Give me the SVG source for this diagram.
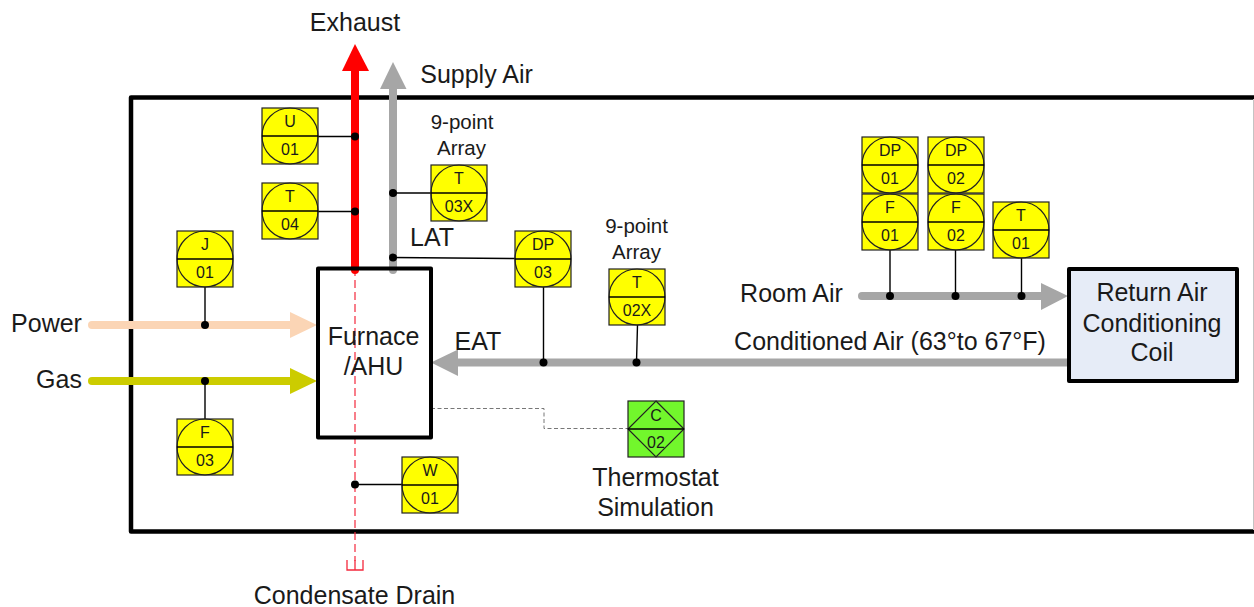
<svg xmlns="http://www.w3.org/2000/svg" width="1254" height="607" viewBox="0 0 1254 607">
<style>
text{font-family:"Liberation Sans",Arial,sans-serif;fill:#1a1a1a;text-anchor:middle}
.l{font-size:25px}
.m{font-size:20.500px}
.s{font-size:16px}
.b{fill:#ff0;stroke:#222;stroke-width:1.2}
.g{fill:#72f72c;stroke:#222;stroke-width:1.2}
.c{fill:none;stroke:#222;stroke-width:1.2}
.h{stroke:#000;stroke-width:1.4}
.w{fill:none;stroke:#000;stroke-width:1.4}
.d{fill:#000}
</style>
<defs>
<g id="gauge"><rect class="b" x="0" y="0" width="56" height="56"/><circle class="c" cx="28" cy="28" r="28"/><line class="h" x1="0" y1="28" x2="56" y2="28"/></g>
</defs>
<g id="boundary"><path d="M1254 97.500H131V531.500H1254" fill="none" stroke="#000" stroke-width="4.500" stroke-linejoin="round"/><path d="M1253.500 99V530" stroke="#c4c4c4" stroke-width="1" fill="none"/></g>
<g id="connectors">
<path d="M355 268V561" stroke="#f4283c" stroke-width="1.200" stroke-dasharray="8 4" fill="none"/>
<path d="M347 560V570H363V560M355 560V570" stroke="#f4283c" stroke-width="1.300" fill="none"/>
<path d="M431 408.500H544V428.500H628" stroke="#777" stroke-width="1" stroke-dasharray="4 2.500" fill="none"/>
<path d="M355 270V70" stroke="#f00" stroke-width="8" stroke-linecap="round"/><path d="M355 44L369 71H342Z" fill="#f00"/>
<path d="M393 270V88" stroke="#a6a6a6" stroke-width="8" stroke-linecap="round"/><path d="M393 62L406.500 89H380Z" fill="#a6a6a6"/>
<path d="M92 325H292" stroke="#fbd5b5" stroke-width="8" stroke-linecap="round"/><path d="M317 325L290 312V338Z" fill="#fbd5b5"/>
<path d="M92 381H292" stroke="#cccc00" stroke-width="8" stroke-linecap="round"/><path d="M317 381L290 368V394Z" fill="#cccc00"/>
<path d="M862 296H1044" stroke="#a6a6a6" stroke-width="8" stroke-linecap="round"/><path d="M1068 296L1041 283V310Z" fill="#a6a6a6"/>
<path d="M1070 362.500H456" stroke="#a6a6a6" stroke-width="8"/><path d="M431 362.500L458 349.500V376Z" fill="#a6a6a6"/>
<path class="w" d="M318 136.500H355M318 211.500H355M393 193H431M393 257.500L515 258.500M205 287V325M205 381V419M355 484.500H402M543.500 287V362M637.500 325L636.500 362M890 250V296M955.500 250V296M1021.500 258V296"/>
<g class="d">
<circle cx="355" cy="136.500" r="4"/><circle cx="355" cy="211.500" r="4"/><circle cx="393" cy="193" r="4"/><circle cx="393" cy="257.500" r="4"/>
<circle cx="205" cy="325" r="4"/><circle cx="205" cy="381" r="4"/><circle cx="355" cy="484.500" r="4"/>
<circle cx="543.500" cy="362.500" r="4"/><circle cx="636.500" cy="362.500" r="4"/>
<circle cx="890" cy="296" r="4"/><circle cx="955.500" cy="296" r="4"/><circle cx="1021.500" cy="296" r="4"/>
</g>
</g>
<g id="furnace"><rect x="318" y="268.500" width="113" height="169" fill="none" stroke="#000" stroke-width="4" stroke-linejoin="round"/><text class="l" x="373.500" y="345">Furnace</text><text class="l" x="373.500" y="375">/AHU</text></g>
<g id="coil"><rect x="1069" y="269" width="168" height="112" fill="#e6ecf7" stroke="#000" stroke-width="4" stroke-linejoin="round"/><text class="l" x="1152" y="301">Return Air</text><text class="l" x="1152" y="332">Conditioning</text><text class="l" x="1152" y="361">Coil</text></g>
<g id="U01" transform="translate(262 108)"><use href="#gauge"/><text class="s" x="28" y="19">U</text><text class="s" x="28" y="47">01</text></g>
<g id="T04" transform="translate(262 183)"><use href="#gauge"/><text class="s" x="28" y="19">T</text><text class="s" x="28" y="47">04</text></g>
<g id="T03X" transform="translate(431 165)"><use href="#gauge"/><text class="s" x="28" y="19">T</text><text class="s" x="28" y="47">03X</text></g>
<g id="DP03" transform="translate(515 231)"><use href="#gauge"/><text class="s" x="28" y="19">DP</text><text class="s" x="28" y="47">03</text></g>
<g id="T02X" transform="translate(609 269)"><use href="#gauge"/><text class="s" x="28" y="19">T</text><text class="s" x="28" y="47">02X</text></g>
<g id="J01" transform="translate(177 231)"><use href="#gauge"/><text class="s" x="28" y="19">J</text><text class="s" x="28" y="47">01</text></g>
<g id="F03" transform="translate(177 419)"><use href="#gauge"/><text class="s" x="28" y="19">F</text><text class="s" x="28" y="47">03</text></g>
<g id="W01" transform="translate(402 457)"><use href="#gauge"/><text class="s" x="28" y="19">W</text><text class="s" x="28" y="47">01</text></g>
<g id="DP01" transform="translate(862 137)"><use href="#gauge"/><text class="s" x="28" y="19">DP</text><text class="s" x="28" y="47">01</text></g>
<g id="F01" transform="translate(862 194)"><use href="#gauge"/><text class="s" x="28" y="19">F</text><text class="s" x="28" y="47">01</text></g>
<g id="DP02" transform="translate(928 137)"><use href="#gauge"/><text class="s" x="28" y="19">DP</text><text class="s" x="28" y="47">02</text></g>
<g id="F02" transform="translate(928 194)"><use href="#gauge"/><text class="s" x="28" y="19">F</text><text class="s" x="28" y="47">02</text></g>
<g id="T01" transform="translate(993 202)"><use href="#gauge"/><text class="s" x="28" y="19">T</text><text class="s" x="28" y="47">01</text></g>
<g id="C02" transform="translate(628 401)"><rect class="g" width="56" height="56"/><path class="c" d="M28 0L56 28L28 56L0 28Z"/><line class="h" x1="0" y1="28" x2="56" y2="28"/><text class="s" x="28" y="20">C</text><text class="s" x="28" y="47">02</text></g>
<g id="labels">
<text class="l" x="355" y="31">Exhaust</text>
<text class="l" x="476.500" y="83">Supply Air</text>
<text class="m" x="462" y="129">9-point</text><text class="m" x="461.500" y="155">Array</text>
<text class="m" x="636.500" y="233">9-point</text><text class="m" x="636.500" y="259">Array</text>
<text class="l" x="432" y="246">LAT</text>
<text class="l" x="478" y="350">EAT</text>
<text class="l" x="46.500" y="331.500">Power</text>
<text class="l" x="59" y="388">Gas</text>
<text class="l" x="791.500" y="302">Room Air</text>
<text class="l" x="890" y="350">Conditioned Air (63°to 67°F)</text>
<text class="l" x="655.500" y="486">Thermostat</text>
<text class="l" x="655.500" y="516">Simulation</text>
<text class="l" x="354.500" y="604">Condensate Drain</text>
</g>
</svg>
